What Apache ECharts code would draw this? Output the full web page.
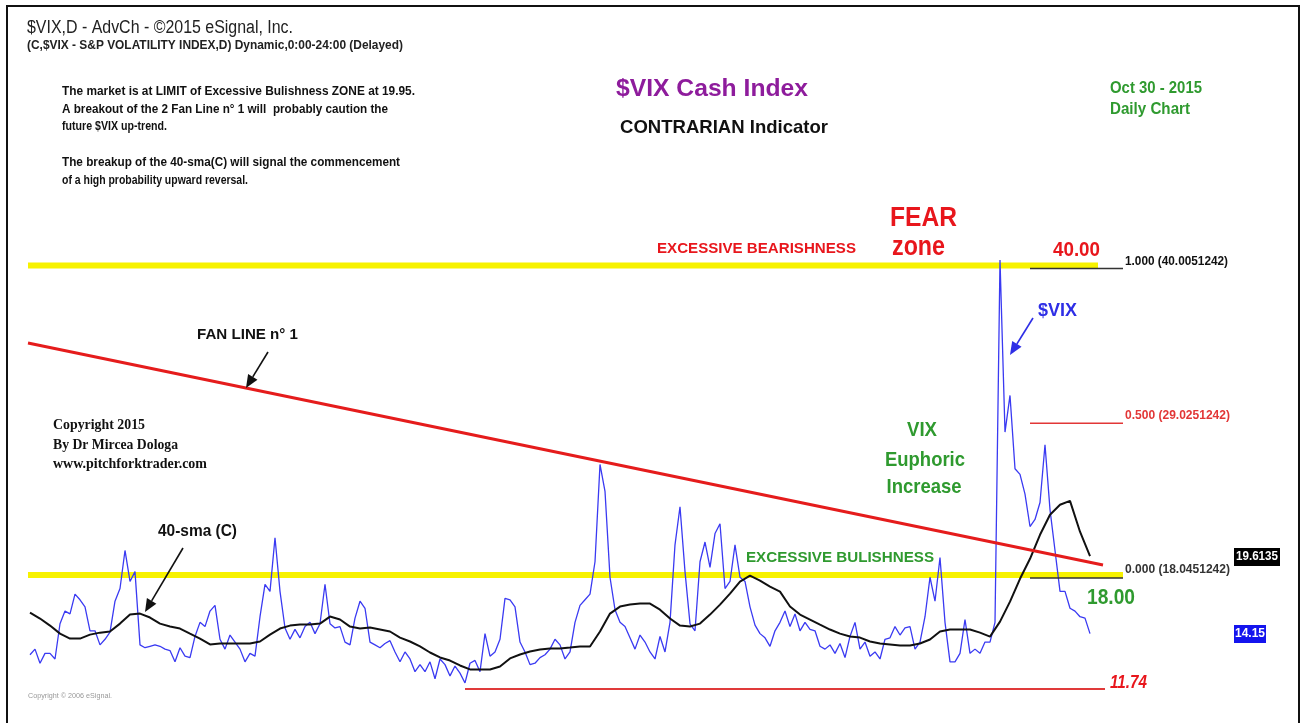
<!DOCTYPE html>
<html>
<head>
<meta charset="utf-8">
<title>$VIX Cash Index - CONTRARIAN Indicator</title>
<script src="https://cdn.jsdelivr.net/npm/echarts@6.0.0/dist/echarts.min.js"></script>
<style>
  html, body { margin: 0; padding: 0; background: #fff; }
  #chart { width: 1301px; height: 723px; }
</style>
</head>
<body>
<div id="chart"></div>
<script>
// $VIX daily closes, one value per slot
const VIX = [
  12.6, 13.0, 12.0, 12.7, 12.7, 12.3, 14.8, 15.7, 15.5, 16.9,
  16.5, 16.0, 14.3, 14.3, 13.3, 13.7, 14.2, 16.4, 17.3, 20.0,
  17.8, 18.5, 13.3, 13.1, 13.2, 13.3, 13.2, 13.0, 12.9, 12.1,
  13.1, 12.5, 12.4, 13.9, 14.9, 14.6, 15.7, 16.1, 13.7, 13.0,
  14.0, 13.5, 13.0, 12.1, 12.7, 12.5, 15.3, 17.6, 17.1, 20.9,
  17.1, 14.5, 13.7, 14.4, 13.8, 14.6, 14.9, 14.1, 14.8, 17.6,
  14.8, 14.5, 14.6, 13.5, 13.3, 15.2, 16.4, 15.9, 13.5, 13.3,
  13.1, 13.4, 13.6, 12.8, 12.1, 12.8, 12.3, 11.4, 11.9, 11.4,
  12.1, 10.9, 12.3, 11.9, 11.1, 11.8, 11.3, 10.6, 12.0, 12.2,
  11.4, 14.1, 12.5, 12.8, 13.7, 16.6, 16.5, 16.0, 13.5, 12.8,
  11.9, 12.0, 12.4, 12.6, 13.0, 13.7, 13.3, 12.3, 12.8, 14.9,
  16.1, 16.5, 16.9, 19.2, 26.1, 24.2, 18.1, 15.8, 14.9, 14.6,
  13.8, 13.0, 14.0, 13.5, 12.8, 12.3, 13.9, 12.8, 14.9, 20.4,
  23.1, 18.5, 14.8, 14.3, 19.2, 20.6, 18.8, 21.2, 21.9, 17.3,
  17.8, 20.4, 18.1, 17.8, 16.0, 14.7, 14.1, 13.8, 13.2, 14.3,
  14.9, 15.7, 14.6, 15.5, 14.3, 14.9, 14.4, 14.3, 13.2, 13.0,
  13.3, 12.7, 13.4, 12.4, 13.9, 14.9, 13.0, 13.5, 12.5, 12.8,
  12.3, 13.7, 13.8, 14.6, 14.0, 14.5, 14.6, 13.0, 13.5, 15.3,
  18.1, 16.4, 19.5, 14.9, 12.1, 12.1, 12.7, 15.1, 12.7, 13.0,
  12.7, 13.5, 13.5, 14.9, 40.6, 28.4, 31.0, 25.8, 25.4, 24.0,
  21.7, 22.2, 23.4, 27.5, 22.9, 20.0, 17.1, 17.1, 15.9, 15.7,
  15.3, 15.2, 14.1
];

// 40-sma (C), one value every SMA_STEP slots
const SMA_STEP = 2;
const SMA_40 = [
  15.59, 15.17, 14.67, 14.10, 13.75, 13.75, 14.03, 14.17, 14.25, 14.81,
  15.45, 15.52, 15.24, 14.81, 14.60, 14.46, 14.10, 13.75, 13.33, 13.40,
  13.40, 13.40, 13.40, 13.54, 14.03, 14.46, 14.67, 14.74, 14.74, 14.81,
  15.31, 15.10, 14.60, 14.46, 14.53, 14.39, 14.25, 13.82, 13.54, 13.19,
  12.76, 12.41, 12.19, 11.84, 11.56, 11.56, 11.56, 11.77, 12.34, 12.62,
  12.83, 12.97, 13.04, 13.04, 13.11, 13.19, 13.19, 14.25, 15.52, 16.02,
  16.16, 16.23, 16.23, 15.80, 15.17, 14.67, 14.60, 14.81, 15.45, 16.16,
  16.94, 17.79, 18.21, 17.86, 17.43, 17.08, 16.02, 15.45, 15.10, 14.74,
  14.39, 14.10, 13.89, 13.82, 13.54, 13.40, 13.33, 13.26, 13.26, 13.40,
  13.68, 14.25, 14.39, 14.39, 14.39, 14.17, 13.89, 14.95, 16.37, 17.99,
  19.41, 21.11, 22.53, 23.24, 23.52, 21.33, 19.60
];

// fibonacci levels (retracement tool) and their labels
const FIB_LEVELS = [40.0051242, 29.0251242, 18.0451242];
const FIB_LABELS = ['1.000 (40.0051242)', '0.500 (29.0251242)', '0.000 (18.0451242)'];
// excessive bearishness / bulishness zone lines
const ZONE_LEVELS = [40.22, 18.26];
// fan line n° 1 end points [slot, value]
const FAN_LINE = [[-0.4, 34.72], [214.6, 18.97]];
// low line
const LOW_LEVEL = 10.17;
const LOW_LABEL = '11.74';
const LAST_SMA = '19.6135';
const LAST_VIX = '14.15';

const chart = echarts.init(document.getElementById('chart'));

const SANS = "'Liberation Sans', Arial, sans-serif";
const SERIF = "'Liberation Serif', 'Times New Roman', serif";
const RED = '#e8161c';
const GREEN = '#2f9a2f';
const BLUE = '#2e2ee6';

// text measuring so every label can be squeezed to the width seen in the picture
const measureCtx = document.createElement('canvas').getContext('2d');
function label(t) {
  const font = (t.italic ? 'italic ' : '') + (t.bold === false ? 'normal ' : 'bold ') + t.size + 'px ' + (t.family || SANS);
  measureCtx.font = font;
  const natural = measureCtx.measureText(t.text).width;
  const align = t.align || 'left';
  return {
    type: 'text', x: t.x, y: t.y, scaleX: t.w ? t.w / natural : 1, silent: true, z: 100,
    style: {
      text: t.text, font: font, fill: t.color || '#111',
      align: align, textAlign: align, verticalAlign: 'middle', textVerticalAlign: 'middle'
    }
  };
}

// arrow with a filled head at (x2, y2)
function arrow(x1, y1, x2, y2, color) {
  const a = Math.atan2(y2 - y1, x2 - x1);
  const len = 13, half = 5.5;
  const bx = x2 - len * Math.cos(a), by = y2 - len * Math.sin(a);
  const px = -Math.sin(a) * half, py = Math.cos(a) * half;
  return [
    { type: 'line', silent: true, z: 100, shape: { x1: x1, y1: y1, x2: bx, y2: by }, style: { stroke: color, lineWidth: 1.6 } },
    { type: 'polygon', silent: true, z: 100, shape: { points: [[x2, y2], [bx + px, by + py], [bx - px, by - py]] }, style: { fill: color } }
  ];
}

const texts = [
  { text: '$VIX,D - AdvCh - ©2015 eSignal, Inc.', x: 27, y: 28, size: 18, bold: false, w: 266, color: '#222' },
  { text: '(C,$VIX - S&P VOLATILITY INDEX,D) Dynamic,0:00-24:00 (Delayed)', x: 27, y: 46, size: 12, w: 376, color: '#222' },
  { text: 'The market is at LIMIT of Excessive Bulishness ZONE at 19.95.', x: 62, y: 92, size: 12, w: 353 },
  { text: 'A breakout of the 2 Fan Line n° 1 will  probably caution the', x: 62, y: 110, size: 12, w: 326 },
  { text: 'future $VIX up-trend.', x: 62, y: 127, size: 12, w: 105 },
  { text: 'The breakup of the 40-sma(C) will signal the commencement', x: 62, y: 163, size: 12, w: 338 },
  { text: 'of a high probability upward reversal.', x: 62, y: 181, size: 12, w: 186 },
  { text: '$VIX Cash Index', x: 616, y: 89, size: 24, w: 192, color: '#8e1c9c' },
  { text: 'CONTRARIAN Indicator', x: 620, y: 128, size: 19, w: 208 },
  { text: 'Oct 30 - 2015', x: 1110, y: 89, size: 16, w: 92, color: GREEN },
  { text: 'Daily Chart', x: 1110, y: 110, size: 16, w: 80, color: GREEN },
  { text: 'FEAR', x: 890, y: 219, size: 27, w: 67, color: RED },
  { text: 'zone', x: 892, y: 248, size: 27, w: 53, color: RED },
  { text: 'EXCESSIVE BEARISHNESS', x: 657, y: 249, size: 15, w: 199, color: RED },
  { text: '40.00', x: 1053, y: 250, size: 21, w: 47, color: RED },
  { text: FIB_LABELS[0], x: 1125, y: 262, size: 12.5, w: 103, color: '#111' },
  { text: FIB_LABELS[1], x: 1125, y: 416, size: 12.5, w: 105, color: '#e23636' },
  { text: FIB_LABELS[2], x: 1125, y: 570, size: 12.5, w: 105, color: '#333' },
  { text: '18.00', x: 1087, y: 598, size: 22, w: 48, color: GREEN },
  { text: LOW_LABEL, x: 1110, y: 683, size: 19, w: 37, color: RED, italic: true },
  { text: '$VIX', x: 1038, y: 311, size: 18, w: 39, color: BLUE },
  { text: 'FAN LINE n° 1', x: 197, y: 335, size: 15, w: 101 },
  { text: 'Copyright 2015', x: 53, y: 425, size: 15, w: 92, family: SERIF },
  { text: 'By Dr Mircea Dologa', x: 53, y: 445, size: 15, w: 125, family: SERIF },
  { text: 'www.pitchforktrader.com', x: 53, y: 464, size: 15, w: 154, family: SERIF },
  { text: 'VIX', x: 922, y: 430, size: 21, w: 30, color: GREEN, align: 'center' },
  { text: 'Euphoric', x: 925, y: 460, size: 21, w: 80, color: GREEN, align: 'center' },
  { text: 'Increase', x: 924, y: 487, size: 21, w: 75, color: GREEN, align: 'center' },
  { text: 'EXCESSIVE BULISHNESS', x: 746, y: 558, size: 15, w: 188, color: GREEN },
  { text: '40-sma (C)', x: 158, y: 532, size: 16, w: 79 },
  { text: 'Copyright © 2006 eSignal.', x: 28, y: 696, size: 8, bold: false, w: 84, color: '#999' },
  { text: LAST_SMA, x: 1257, y: 557, size: 12.5, w: 42, color: '#fff', align: 'center' },
  { text: LAST_VIX, x: 1250, y: 634, size: 12.5, w: 30, color: '#fff', align: 'center' }
];

const graphics = [
  { type: 'rect', silent: true, z: 90, shape: { x: 7, y: 6, width: 1292, height: 740 }, style: { fill: 'none', stroke: '#111', lineWidth: 2 } },
  { type: 'rect', silent: true, z: 95, shape: { x: 1234, y: 548, width: 46, height: 18 }, style: { fill: '#000' } },
  { type: 'rect', silent: true, z: 95, shape: { x: 1234, y: 625, width: 32, height: 18 }, style: { fill: '#1414ee' } }
]
  .concat(arrow(1033, 318, 1010, 355, BLUE))
  .concat(arrow(268, 352, 246, 388, '#111'))
  .concat(arrow(183, 548, 145, 612, '#111'))
  .concat(texts.map(label));

function segment(name, points, color, width, z) {
  return {
    name: name, type: 'line', data: points, showSymbol: false, silent: true, z: z,
    lineStyle: { color: color, width: width }
  };
}

chart.setOption({
  animation: false,
  backgroundColor: '#fff',
  grid: { left: 28, right: 178, top: 198.1, bottom: 3.4 },
  xAxis: { type: 'value', min: -0.4, max: 218.6, show: false },
  yAxis: { type: 'value', min: 8, max: 45, show: false },
  series: [
    segment('Bearishness zone', [[FAN_LINE[0][0], ZONE_LEVELS[0]], [213.6, ZONE_LEVELS[0]]], '#f7f200', 6, 1),
    segment('Bulishness zone', [[FAN_LINE[0][0], ZONE_LEVELS[1]], [218.6, ZONE_LEVELS[1]]], '#f7f200', 6, 1),
    segment('Low', [[87, LOW_LEVEL], [215, LOW_LEVEL]], '#e03a3a', 2, 2),
    {
      name: '$VIX', type: 'line', z: 3, showSymbol: false, silent: true,
      data: VIX.map((v, i) => [i, v]),
      lineStyle: { color: '#3a3af2', width: 1.3 }
    },
    {
      name: '40-sma (C)', type: 'line', z: 4, showSymbol: false, silent: true,
      data: SMA_40.map((v, k) => [k * SMA_STEP, v]),
      lineStyle: { color: '#111', width: 2 }
    },
    segment('Fan Line n° 1', FAN_LINE, '#e51c1c', 3, 5),
    segment('Fib 1.000', [[200, FIB_LEVELS[0]], [218.6, FIB_LEVELS[0]]], '#333', 1.5, 6),
    segment('Fib 0.500', [[200, FIB_LEVELS[1]], [218.6, FIB_LEVELS[1]]], '#e23636', 1.5, 6),
    segment('Fib 0.000', [[200, FIB_LEVELS[2]], [218.6, FIB_LEVELS[2]]], '#333', 1.5, 6)
  ],
  graphic: { elements: graphics }
});
</script>
</body>
</html>
